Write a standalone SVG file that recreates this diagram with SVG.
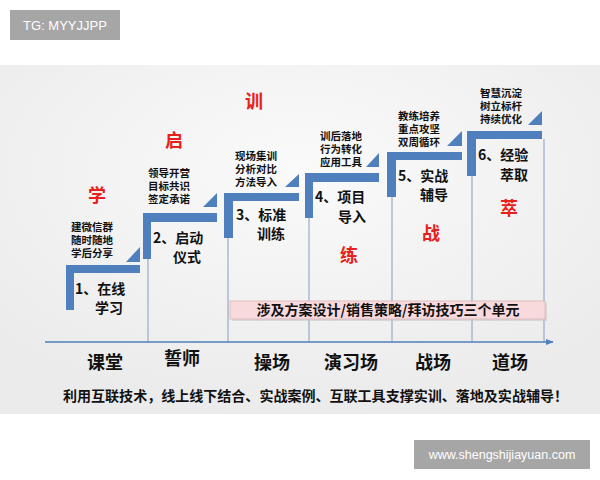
<svg xmlns="http://www.w3.org/2000/svg" width="600" height="480" viewBox="0 0 600 480">
<style>
.bar{fill:#4f7fbd}
.col{stroke:#98acca;stroke-width:1.2;fill:none}
.note{font-family:"Noto Sans CJK SC","Noto Sans",sans-serif;font-weight:bold;font-size:10.5px;fill:#111}
.lab{font-family:"Noto Sans CJK SC","Noto Sans",sans-serif;font-weight:bold;font-size:14px;fill:#111}
.red{font-family:"Noto Sans CJK SC","Noto Sans",sans-serif;font-weight:bold;font-size:18px;fill:#e8201c}
.place{font-family:"Noto Sans CJK SC","Noto Sans",sans-serif;font-weight:bold;font-size:18px;fill:#111}
.wm{font-family:"Liberation Sans","DejaVu Sans",sans-serif;fill:#fff}
</style>
<defs>
<radialGradient id="bg" cx="0.5" cy="0.3" r="0.7">
<stop offset="0" stop-color="#fafafa"/>
<stop offset="1" stop-color="#ebebeb"/>
</radialGradient>
<marker id="arr" viewBox="0 0 10 10" refX="9" refY="5" markerWidth="5" markerHeight="5" orient="auto">
<path d="M0,1 L10,5 L0,9 z" fill="#4f7fbd"/>
</marker>
</defs>
<rect width="600" height="480" fill="#fff"/>
<rect x="0" y="65" width="600" height="349" fill="url(#bg)"/>

<g id="connectors">
<line class="col" x1="148" y1="259" x2="148" y2="342"/>
<line class="col" x1="228" y1="238" x2="228" y2="342"/>
<line class="col" x1="309" y1="218" x2="309" y2="342"/>
<line class="col" x1="392" y1="197" x2="392" y2="342"/>
<line class="col" x1="472" y1="176" x2="472" y2="342"/>
<line class="col" x1="544" y1="139" x2="544" y2="342"/>
<line x1="45" y1="342" x2="553" y2="342" stroke="#4f7fbd" stroke-width="1.6" marker-end="url(#arr)"/>
</g>

<g id="step1">
<rect class="bar" x="66" y="265" width="74" height="8"/>
<rect class="bar" x="66" y="265" width="8" height="45"/>
<polygon class="bar" points="126,262 140,247 140,262"/>
<text class="red" x="88" y="202">学</text>
<text class="note" x="71" y="231">建微信群</text>
<text class="note" x="71" y="244">随时随地</text>
<text class="note" x="71" y="257">学后分享</text>
<text class="lab" x="75" y="294">1、在线</text>
<text class="lab" x="95" y="313">学习</text>
</g>

<g id="step2">
<rect class="bar" x="143" y="213" width="74" height="9"/>
<rect class="bar" x="143" y="213" width="8" height="46"/>
<polygon class="bar" points="203,207 217,193 217,207"/>
<text class="red" x="165" y="147">启</text>
<text class="note" x="148" y="177">领导开营</text>
<text class="note" x="148" y="190">目标共识</text>
<text class="note" x="148" y="203">签定承诺</text>
<text class="lab" x="153" y="243">2、启动</text>
<text class="lab" x="173" y="262">仪式</text>
</g>

<g id="step3">
<rect class="bar" x="224" y="193" width="75" height="8"/>
<rect class="bar" x="224" y="193" width="9" height="45"/>
<polygon class="bar" points="285,187 299,174 299,187"/>
<text class="red" x="245" y="108">训</text>
<text class="note" x="235" y="160">现场集训</text>
<text class="note" x="235" y="173">分析对比</text>
<text class="note" x="235" y="186">方法导入</text>
<text class="lab" x="236" y="220">3、标准</text>
<text class="lab" x="257" y="239">训练</text>
</g>

<g id="step4">
<rect class="bar" x="305" y="173" width="74" height="9"/>
<rect class="bar" x="305" y="173" width="8" height="45"/>
<polygon class="bar" points="366,167 379,153 379,167"/>
<text class="red" x="340" y="262">练</text>
<text class="note" x="320" y="140">训后落地</text>
<text class="note" x="320" y="153">行为转化</text>
<text class="note" x="320" y="166">应用工具</text>
<text class="lab" x="315" y="202">4、项目</text>
<text class="lab" x="338" y="222">导入</text>
</g>

<g id="step5">
<rect class="bar" x="387" y="152" width="75" height="8"/>
<rect class="bar" x="387" y="152" width="9" height="45"/>
<polygon class="bar" points="447,146 462,131 462,146"/>
<text class="red" x="422" y="240">战</text>
<text class="note" x="398" y="120">教练培养</text>
<text class="note" x="398" y="133">重点攻坚</text>
<text class="note" x="398" y="146">双周循环</text>
<text class="lab" x="398" y="181">5、实战</text>
<text class="lab" x="420" y="200">辅导</text>
</g>

<g id="step6">
<rect class="bar" x="467" y="131" width="75" height="8"/>
<rect class="bar" x="467" y="131" width="9" height="45"/>
<polygon class="bar" points="528,125 542,111 542,125"/>
<text class="red" x="500" y="215">萃</text>
<text class="note" x="480" y="97">智慧沉淀</text>
<text class="note" x="480" y="110">树立标杆</text>
<text class="note" x="480" y="123">持续优化</text>
<text class="lab" x="478" y="160">6、经验</text>
<text class="lab" x="500" y="180">萃取</text>
</g>

<g id="units">
<rect x="232" y="303" width="315" height="18" fill="#c8c8c8" opacity="0.6"/>
<rect x="230" y="301" width="315" height="18" fill="#f8dadd" stroke="#d8b4b8" stroke-width="0.8"/>
<text class="lab" x="388" y="315" text-anchor="middle">涉及方案设计/销售策略/拜访技巧三个单元</text>
</g>

<g id="places">
<text class="place" x="105" y="369" text-anchor="middle">课堂</text>
<text class="place" x="182" y="365" text-anchor="middle">誓师</text>
<text class="place" x="272" y="369" text-anchor="middle">操场</text>
<text class="place" x="351" y="369" text-anchor="middle">演习场</text>
<text class="place" x="433" y="369" text-anchor="middle">战场</text>
<text class="place" x="510" y="369" text-anchor="middle">道场</text>
</g>

<g id="footer">
<text class="lab" x="63" y="401" font-size="13.5px" textLength="505" lengthAdjust="spacingAndGlyphs">利用互联技术，线上线下结合、实战案例、互联工具支撑实训、落地及实战辅导！</text>
</g>

<g id="wm1">
<rect x="10" y="10" width="110" height="30" fill="#a6a6a6"/>
<text class="wm" x="65" y="30" text-anchor="middle" font-size="13px">TG: MYYJJPP</text>
</g>
<g id="wm2">
<rect x="414" y="440" width="176" height="29" fill="#a6a6a6"/>
<text class="wm" x="502" y="459" text-anchor="middle" font-size="12.5px">www.shengshijiayuan.com</text>
</g>
</svg>
